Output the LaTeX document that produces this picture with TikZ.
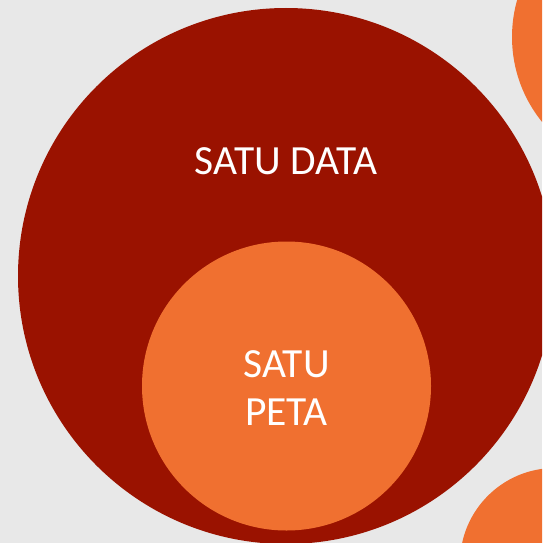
\documentclass[tikz,border=0pt]{standalone}
\usepackage{fontspec}
\setmainfont{Carlito}
\definecolor{bgc}{RGB}{232,232,232}
\definecolor{darkc}{RGB}{154,18,0}
\definecolor{orangec}{RGB}{240,112,48}
\tikzset{x=1pt,y=-1pt,
  disc/.style={circle,inner sep=0pt,minimum size=#1,align=center,text=white,font=\fontsize{41.5}{48}\selectfont}}
\begin{document}
\begin{tikzpicture}
\useasboundingbox (0,0) rectangle (542,543);
\fill[bgc] (0,0) rectangle (542,543);
\begin{scope}
\clip (0,0) rectangle (542,543);
\node[disc=270pt,fill=orangec] (topright) at (647,37) {};
\node[disc=190pt,fill=orangec] (bottomright) at (555,563) {};
\node[disc=536pt,fill=darkc] (outer) at (286,276) {};
\node[disc=289pt,fill=orangec] (inner) at (286.5,386) {};
\node[align=center,text=white,font=\fontsize{41.5}{48}\selectfont] (petalabel) at (286.5,388) {SATU\\PETA};
\node[text=white,font=\fontsize{41.5}{48}\selectfont] (datalabel) at (286,161) {SATU DATA};
\end{scope}
\end{tikzpicture}
\end{document}
